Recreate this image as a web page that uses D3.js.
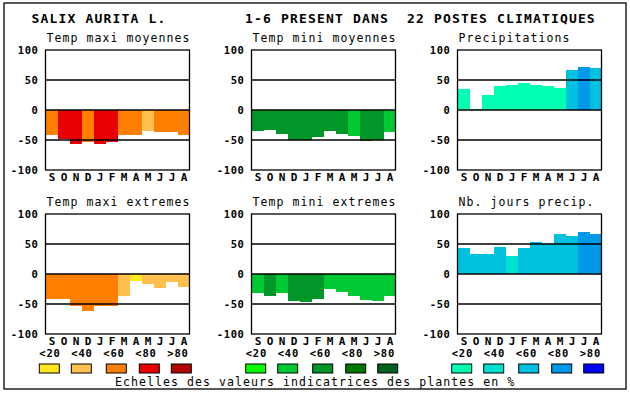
<!DOCTYPE html>
<html>
<head>
<meta charset="utf-8">
<script src="https://cdn.jsdelivr.net/npm/d3@7"></script>
<style>
  html, body { margin: 0; padding: 0; background: #fff; }
  svg { display: block; }
  text { font-family: "DejaVu Sans Mono", monospace; white-space: pre; }
</style>
</head>
<body>
<svg id="chart" width="630" height="394"></svg>
<script>
// ---- data ----
const months = ["S","O","N","D","J","F","M","A","M","J","J","A"];
const yTicks = [100, 50, 0, -50, -100];
const gridValues = [50, 0, -50];

const titleLeft = "SALIX AURITA L.";
const titleRight = "1-6 PRESENT DANS  22 POSTES CLIMATIQUES";
const footer = "Echelles des valeurs indicatrices des plantes en %";
const legendLabels = ["<20", "<40", "<60", "<80", ">80"];

const orangeScale = ["#FFE820", "#FFC050", "#FF8000", "#E80000", "#B00800"];
const greenScale  = ["#00FF00", "#00C832", "#009628", "#007800", "#006020"];
const blueScale   = ["#00FFB0", "#00E0D0", "#00C0E0", "#0098E8", "#0000FF"];

const tempMaxiMoy    = [-42, -48, -56, -53, -56, -53, -41, -41, -35, -36, -36, -41];
const tempMaxiMoyCls = [2, 3, 3, 2, 3, 3, 2, 2, 1, 2, 2, 2];
const tempMiniMoy    = [-35.5, -34, -40.5, -50, -50, -45.5, -35.5, -40.5, -44, -52, -50, -37];
const tempMiniMoyCls = [2, 2, 2, 2, 2, 2, 2, 2, 1, 2, 2, 1];
const precip         = [35.5, 2, 24.5, 40.5, 42, 45.5, 42, 40.5, 37, 67, 72, 70.5];
const precipCls      = [0, 0, 0, 0, 0, 0, 0, 0, 0, 2, 3, 2];
const tempMaxiExt    = [-41, -41, -53, -61, -53, -53, -36, -11, -16, -24, -14, -22];
const tempMaxiExtCls = [2, 2, 2, 2, 2, 2, 1, 0, 1, 1, 1, 1];
const tempMiniExt    = [-32, -37, -32, -45.5, -47, -42, -25.5, -30.5, -37, -44, -45.5, -37];
const tempMiniExtCls = [1, 2, 1, 2, 2, 2, 1, 1, 1, 1, 1, 1];
const nbJours        = [44, 34, 34, 45.5, 30.5, 44, 54, 50.5, 67, 64, 70.5, 67];
const nbJoursCls     = [2, 2, 2, 2, 1, 2, 2, 2, 2, 2, 3, 3];

const panels = [
  {title: "Temp maxi moyennes", values: tempMaxiMoy, cls: tempMaxiMoyCls, colors: orangeScale, col: 0, row: 0},
  {title: "Temp mini moyennes", values: tempMiniMoy, cls: tempMiniMoyCls, colors: greenScale, col: 1, row: 0},
  {title: "Precipitations", values: precip, cls: precipCls, colors: blueScale, col: 2, row: 0},
  {title: "Temp maxi extremes", values: tempMaxiExt, cls: tempMaxiExtCls, colors: orangeScale, col: 0, row: 1},
  {title: "Temp mini extremes", values: tempMiniExt, cls: tempMiniExtCls, colors: greenScale, col: 1, row: 1},
  {title: "Nb. jours precip.", values: nbJours, cls: nbJoursCls, colors: blueScale, col: 2, row: 1}
];

// ---- layout ----
const svg = d3.select("#chart");
svg.append("rect").attr("x", 0).attr("y", 0).attr("width", 630).attr("height", 394).attr("fill", "#fff");
svg.append("rect").attr("x", 4).attr("y", 3).attr("width", 622).attr("height", 386)
  .attr("fill", "none").attr("stroke", "#000").attr("stroke-width", 1.3);

svg.append("text").attr("x", 31.5).attr("y", 23.3)
  .attr("font-size", 13).attr("font-weight", "bold").attr("letter-spacing", 1.17)
  .text(titleLeft);
svg.append("text").attr("x", 245).attr("y", 23.3)
  .attr("font-size", 13).attr("font-weight", "bold").attr("letter-spacing", 1.17)
  .text(titleRight);

const colX = [45.5, 251.5, 457.5];
const rowY = [50, 214];
const plotW = 144, plotH = 120;

panels.forEach(p => {
  const x0 = colX[p.col], y0 = rowY[p.row];
  const x = d3.scaleBand().domain(d3.range(months.length)).range([x0, x0 + plotW]).padding(0);
  const y = d3.scaleLinear().domain([-100, 100]).range([y0 + plotH, y0]);
  const g = svg.append("g");

  g.append("text").attr("x", x0 + 1).attr("y", y0 - 8.3)
    .attr("font-size", 11.5).attr("letter-spacing", 1.08).text(p.title);

  g.selectAll("rect.bar").data(p.values).enter().append("rect")
    .attr("class", "bar")
    .attr("shape-rendering", "crispEdges")
    .attr("x", (d, i) => x(i))
    .attr("width", x.bandwidth() + 0.5)
    .attr("y", d => Math.min(y(0), y(d)))
    .attr("height", d => Math.abs(y(d) - y(0)))
    .attr("fill", (d, i) => p.colors[p.cls[i]]);

  g.selectAll("line.grid").data(gridValues).enter().append("line")
    .attr("x1", x0).attr("x2", x0 + plotW)
    .attr("y1", d => y(d)).attr("y2", d => y(d))
    .attr("stroke", "#000").attr("stroke-width", 1.3);

  g.append("rect").attr("x", x0).attr("y", y0).attr("width", plotW).attr("height", plotH)
    .attr("fill", "none").attr("stroke", "#000").attr("stroke-width", 1.3);

  g.selectAll("text.tick").data(yTicks).enter().append("text")
    .attr("class", "tick")
    .attr("x", x0 - 7).attr("y", d => y(d) + 3.8)
    .attr("text-anchor", "end")
    .attr("font-size", 10.5).attr("font-weight", "bold").attr("letter-spacing", 0.6)
    .text(d => String(d));

  g.selectAll("text.month").data(months).enter().append("text")
    .attr("class", "month")
    .attr("x", (d, i) => x(i) + x.bandwidth() / 2 + 0.5)
    .attr("y", y0 + plotH + 10.7)
    .attr("text-anchor", "middle")
    .attr("font-size", 11).attr("font-weight", "bold")
    .text(d => d);
});

// ---- legends ----
const legendX = [39.3, 245.7, 451.7];
const legendScales = [orangeScale, greenScale, blueScale];
const swatchOffsets = [0, 32, 67, 100, 132];
legendScales.forEach((sc, k) => {
  const lx = legendX[k];
  const g = svg.append("g");
  g.selectAll("text").data(legendLabels).enter().append("text")
    .attr("x", (d, i) => lx + i * 32)
    .attr("y", 357.3)
    .attr("font-size", 10.5).attr("font-weight", "bold").attr("letter-spacing", 0.8)
    .text(d => d);
  g.selectAll("rect").data(sc).enter().append("rect")
    .attr("x", (d, i) => lx + swatchOffsets[i])
    .attr("y", 364)
    .attr("width", 20).attr("height", 9)
    .attr("fill", d => d)
    .attr("stroke", "#000").attr("stroke-width", 1);
});

svg.append("text").attr("x", 115).attr("y", 386)
  .attr("font-size", 11.5).attr("letter-spacing", 1.08).text(footer);
</script>
</body>
</html>
